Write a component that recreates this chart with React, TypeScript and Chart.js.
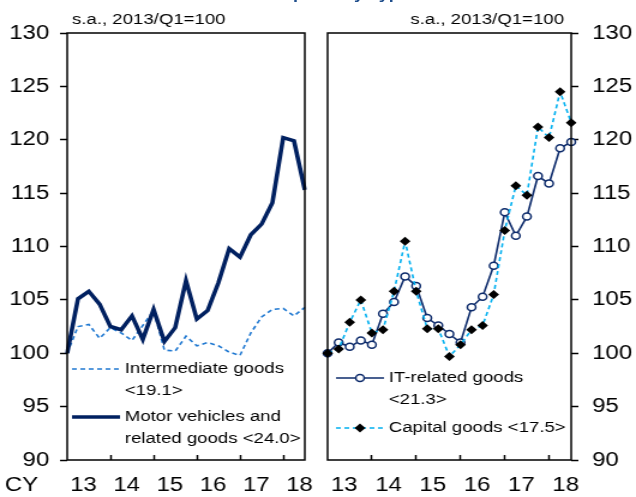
import React, { useEffect, useRef } from 'react';
import { Chart, registerables } from 'chart.js';

Chart.register(...registerables);

const FONT = "'Liberation Sans', Arial, Helvetica, sans-serif";
const STRETCH = 1.2;

// ---- data ----
const quarters = [
  '2013Q1', '2013Q2', '2013Q3', '2013Q4',
  '2014Q1', '2014Q2', '2014Q3', '2014Q4',
  '2015Q1', '2015Q2', '2015Q3', '2015Q4',
  '2016Q1', '2016Q2', '2016Q3', '2016Q4',
  '2017Q1', '2017Q2', '2017Q3', '2017Q4',
  '2018Q1', '2018Q2', '2018Q3',
];
const yearLabels = ['13', '14', '15', '16', '17', '18'];
const yearLabelPos = [1.5, 5.5, 9.5, 13.5, 17.5, 21.5];
const yearBoundaryPos = [4, 8, 12, 16, 20];
const yMin = 90;
const yMax = 130;
const yStep = 5;

const intermediate = [100, 102.5, 102.7, 101.4, 102.4, 101.9, 101.2, 102.6, 104.0, 100.3, 100.2, 101.6, 100.7, 101.0, 100.7, 100.1, 99.8, 101.9, 103.4, 104.1, 104.2, 103.5, 104.3];
const motor = [100, 105.1, 105.8, 104.6, 102.5, 102.2, 103.5, 101.3, 104.1, 101.1, 102.4, 106.8, 103.2, 104.0, 106.6, 109.8, 109.0, 111.1, 112.1, 114.1, 120.2, 119.9, 115.3];
const itGoods = [100, 101.0, 100.6, 101.2, 100.8, 103.7, 104.8, 107.2, 106.3, 103.3, 102.6, 101.8, 101.0, 104.3, 105.3, 108.2, 113.2, 111.0, 112.8, 116.6, 115.9, 119.2, 119.8];
const capital = [100, 100.4, 102.9, 105.0, 101.9, 102.2, 105.8, 110.5, 105.8, 102.3, 102.3, 99.7, 100.8, 102.2, 102.6, 105.5, 111.5, 115.7, 114.8, 121.2, 120.2, 124.5, 121.6];

const unitNote = 's.a., 2013/Q1=100';
const titleText = 'Real Exports by Type of Goods';
const legendLeft = [['Intermediate goods', '<19.1>'], ['Motor vehicles and', 'related goods <24.0>']];
const legendRight = [['IT-related goods', '<21.3>'], ['Capital goods <17.5>']];
const axisPrefix = 'CY';

// ---- helpers ----
function drawMarker(ctx: CanvasRenderingContext2D, ds: any, x: number, y: number) {
  const r = ds.pointRadius;
  ctx.save();
  ctx.setLineDash([]);
  ctx.beginPath();
  if (ds.pointStyle === 'rectRot') {
    ctx.moveTo(x - r, y);
    ctx.lineTo(x, y - r);
    ctx.lineTo(x + r, y);
    ctx.lineTo(x, y + r);
    ctx.closePath();
  } else {
    ctx.arc(x, y, r, 0, Math.PI * 2);
  }
  ctx.fillStyle = ds.pointBackgroundColor;
  ctx.fill();
  if (ds.pointBorderWidth > 0) {
    ctx.lineWidth = ds.pointBorderWidth;
    ctx.strokeStyle = ds.pointBorderColor;
    ctx.stroke();
  }
  ctx.restore();
}

type Row = { ds: number; lines: string[]; y: number };

function makeOverlay(
  id: string,
  noteAlign: 'left' | 'right',
  noteDx: number,
  rows: Row[],
  x0: number,
  x1: number,
  tx: number,
  prefix?: { text: string; x: number; y: number }
) {
  return {
    id,
    afterDatasetsDraw(chart: any) {
      const { ctx, chartArea: a } = chart;
      ctx.save();
      ctx.setLineDash([]);
      ctx.strokeStyle = '#000';
      ctx.lineWidth = 1.5;
      ctx.strokeRect(a.left, a.top, a.right - a.left, a.bottom - a.top);

      ctx.fillStyle = '#000';
      ctx.textBaseline = 'middle';
      ctx.font = `15.5px ${FONT}`;
      ctx.textAlign = noteAlign;
      ctx.fillText(unitNote, noteAlign === 'left' ? a.left + noteDx : a.right - noteDx, 20);

      ctx.textAlign = 'left';
      for (const row of rows) {
        const ds = chart.data.datasets[row.ds];
        ctx.beginPath();
        ctx.setLineDash(ds.borderDash || []);
        ctx.strokeStyle = ds.borderColor;
        ctx.lineWidth = ds.borderWidth;
        ctx.moveTo(x0, row.y);
        ctx.lineTo(x1, row.y);
        ctx.stroke();
        ctx.setLineDash([]);
        if (ds.pointRadius > 0) drawMarker(ctx, ds, (x0 + x1) / 2, row.y);
        ctx.fillStyle = '#000';
        row.lines.forEach((t, k) => ctx.fillText(t, tx, row.y + k * 22));
      }

      if (prefix) {
        ctx.font = `20px ${FONT}`;
        ctx.textAlign = 'left';
        ctx.fillText(prefix.text, prefix.x, prefix.y);
      }
      ctx.restore();
    },
  };
}

function xScale() {
  const positions = [...yearLabelPos, ...yearBoundaryPos].sort((a, b) => a - b);
  return {
    type: 'category' as const,
    offset: false,
    grid: {
      display: true,
      offset: false,
      drawOnChartArea: false,
      drawTicks: true,
      tickLength: -5,
      tickWidth: 1.5,
      tickColor: (c: any) => (c.tick && yearBoundaryPos.includes(c.tick.value) ? '#000' : 'rgba(0,0,0,0)'),
    },
    border: { display: false },
    ticks: {
      autoSkip: false,
      maxRotation: 0,
      minRotation: 0,
      padding: 18,
      color: '#000',
      font: { family: FONT, size: 20 },
      callback: (v: any) => {
        const i = yearLabelPos.indexOf(v);
        return i >= 0 ? yearLabels[i] : '';
      },
    },
    afterBuildTicks: (s: any) => {
      s.ticks = positions.map((v) => ({ value: v }));
    },
    afterFit: (s: any) => {
      s.height = 37;
      s.paddingLeft = 0;
      s.paddingRight = 0;
    },
  };
}

function yScale(position: 'left' | 'right', width: number, padding: number) {
  return {
    type: 'linear' as const,
    position,
    min: yMin,
    max: yMax,
    grid: { drawOnChartArea: false, tickLength: 6, tickWidth: 1.5, tickColor: '#000' },
    border: { display: false },
    ticks: { stepSize: yStep, padding, color: '#000', font: { family: FONT, size: 20 } },
    afterFit: (s: any) => {
      s.width = width;
    },
  };
}

export default function App() {
  const leftRef = useRef<HTMLCanvasElement>(null);
  const rightRef = useRef<HTMLCanvasElement>(null);

  useEffect(() => {
    Chart.defaults.font.family = FONT;
    const left = new Chart(leftRef.current!, {
      type: 'line',
      data: {
        labels: quarters,
        datasets: [
          {
            label: 'Intermediate goods <19.1>',
            data: intermediate,
            borderColor: '#1f78d1',
            borderWidth: 1.6,
            borderDash: [4, 3],
            pointRadius: 0,
            tension: 0,
            order: 2,
          },
          {
            label: 'Motor vehicles and related goods <24.0>',
            data: motor,
            borderColor: '#002060',
            borderWidth: 3.6,
            pointRadius: 0,
            tension: 0,
            order: 1,
          },
        ],
      },
      options: {
        responsive: false,
        animation: false,
        layout: { padding: { top: 33, right: 10, left: 0, bottom: 0 } },
        plugins: { legend: { display: false }, tooltip: { enabled: false } },
        scales: { x: xScale() as any, y: yScale('left', 56, 9) as any },
      },
      plugins: [
        makeOverlay(
          'leftOverlay',
          'left',
          4,
          [
            { ds: 0, lines: legendLeft[0], y: 369 },
            { ds: 1, lines: legendLeft[1], y: 417 },
          ],
          60,
          100,
          104,
          { text: axisPrefix, x: 4, y: 485 }
        ),
      ],
    });

    const right = new Chart(rightRef.current!, {
      type: 'line',
      data: {
        labels: quarters,
        datasets: [
          {
            label: 'IT-related goods <21.3>',
            data: itGoods,
            borderColor: '#0d2b6b',
            borderWidth: 1.6,
            pointRadius: 3.5,
            pointBorderWidth: 1.5,
            pointBorderColor: '#0d2b6b',
            pointBackgroundColor: '#ffffff',
            pointStyle: 'circle',
            tension: 0,
            order: 2,
          },
          {
            label: 'Capital goods <17.5>',
            data: capital,
            borderColor: '#00b0f0',
            borderWidth: 1.6,
            borderDash: [4, 3],
            pointRadius: 4.5,
            pointBorderWidth: 0,
            pointBorderColor: '#000000',
            pointBackgroundColor: '#000000',
            pointStyle: 'rectRot',
            tension: 0,
            order: 1,
          },
        ],
      },
      options: {
        responsive: false,
        animation: false,
        layout: { padding: { top: 33, right: 0, left: 9, bottom: 0 } },
        plugins: { legend: { display: false }, tooltip: { enabled: false } },
        scales: { x: xScale() as any, y: yScale('right', 54, 11.5) as any },
      },
      plugins: [
        makeOverlay(
          'rightOverlay',
          'right',
          6,
          [
            { ds: 0, lines: legendRight[0], y: 378 },
            { ds: 1, lines: legendRight[1], y: 428 },
          ],
          16,
          56,
          60
        ),
      ],
    });

    return () => {
      left.destroy();
      right.destroy();
    };
  }, []);

  return (
    <div
      style={{
        position: 'fixed',
        left: 0,
        top: 0,
        width: 636,
        height: 497,
        overflow: 'hidden',
        background: '#fff',
      }}
    >
      <div
        style={{
          position: 'absolute',
          left: 0,
          top: 0,
          width: 530,
          height: 497,
          transform: `scaleX(${STRETCH})`,
          transformOrigin: '0 0',
        }}
      >
        <div style={{ position: 'absolute', left: 190, top: 0, height: 5, width: 300, overflow: 'hidden' }}>
          <div
            style={{
              position: 'relative',
              top: -14.5,
              fontFamily: FONT,
              fontWeight: 'bold',
              fontSize: 15,
              lineHeight: '15px',
              color: '#1f4e8c',
              whiteSpace: 'nowrap',
            }}
          >
            {titleText}
          </div>
        </div>
        <canvas ref={leftRef} width={264} height={497} style={{ position: 'absolute', left: 0, top: 0 }} />
        <canvas ref={rightRef} width={266} height={497} style={{ position: 'absolute', left: 264, top: 0 }} />
      </div>
    </div>
  );
}
